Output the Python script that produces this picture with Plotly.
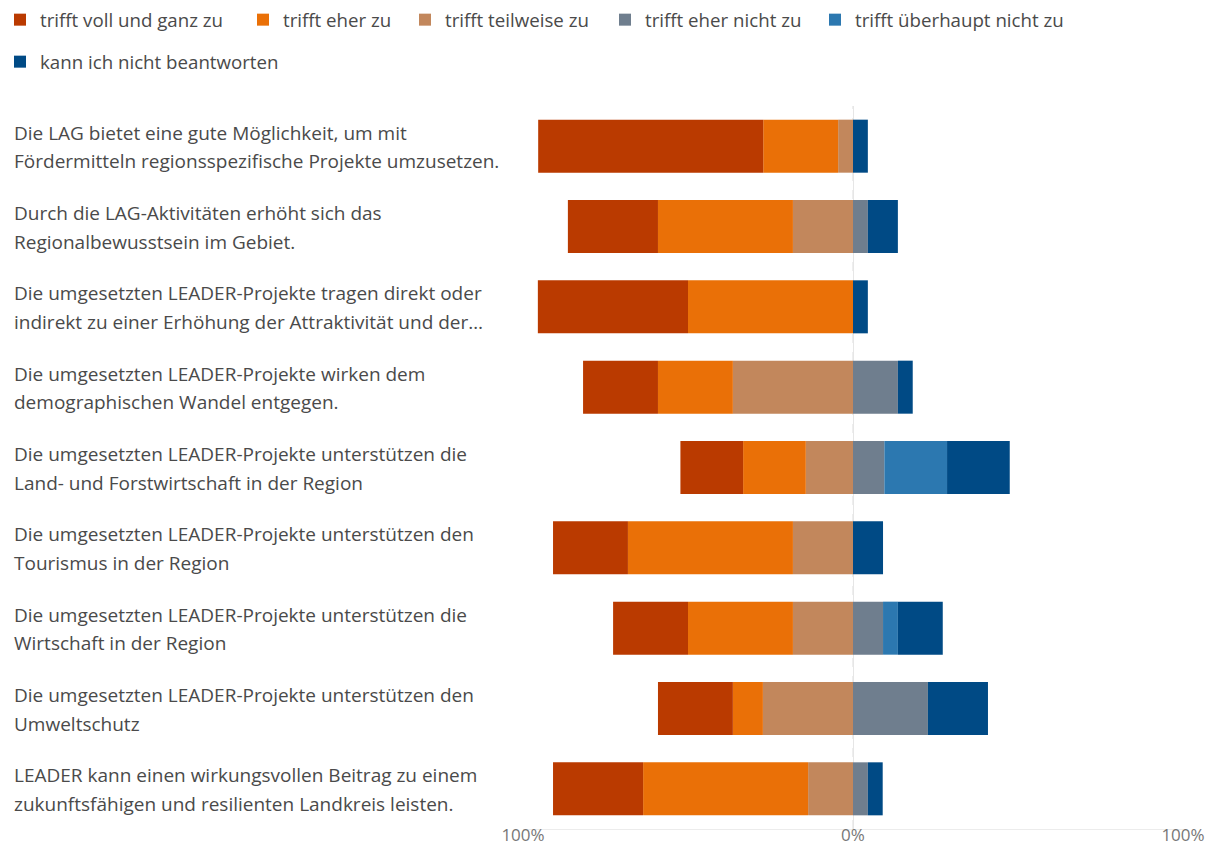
import plotly.graph_objects as go

statements = [
    "Die LAG bietet eine gute Möglichkeit, um mit<br>Fördermitteln regionsspezifische Projekte umzusetzen.",
    "Durch die LAG-Aktivitäten erhöht sich das<br>Regionalbewusstsein im Gebiet.",
    "Die umgesetzten LEADER-Projekte tragen direkt oder<br>indirekt zu einer Erhöhung der Attraktivität und der…",
    "Die umgesetzten LEADER-Projekte wirken dem<br>demographischen Wandel entgegen.",
    "Die umgesetzten LEADER-Projekte unterstützen die<br>Land- und Forstwirtschaft in der Region",
    "Die umgesetzten LEADER-Projekte unterstützen den<br>Tourismus in der Region",
    "Die umgesetzten LEADER-Projekte unterstützen die<br>Wirtschaft in der Region",
    "Die umgesetzten LEADER-Projekte unterstützen den<br>Umweltschutz",
    "LEADER kann einen wirkungsvollen Beitrag zu einem<br>zukunftsfähigen und resilienten Landkreis leisten.",
]

# Percent of answers per statement
voll_und_ganz = [68.2, 27.3, 45.5, 22.7, 19.0, 22.7, 22.7, 22.7, 27.3]
eher_zu = [22.7, 40.9, 50.0, 22.7, 19.0, 50.0, 31.8, 9.1, 50.0]
teilweise = [4.5, 18.2, 0.0, 36.4, 14.3, 18.2, 18.2, 27.3, 13.6]
eher_nicht = [0.0, 4.5, 0.0, 13.6, 9.5, 0.0, 9.1, 22.7, 4.5]
ueberhaupt_nicht = [0.0, 0.0, 0.0, 0.0, 19.0, 0.0, 4.5, 0.0, 0.0]
kann_nicht = [4.5, 9.1, 4.5, 4.5, 19.0, 9.1, 13.6, 18.2, 4.5]

series_names = ["trifft voll und ganz zu", "trifft eher zu", "trifft teilweise zu",
                "trifft eher nicht zu", "trifft überhaupt nicht zu", "kann ich nicht beantworten"]
series_values = [voll_und_ganz, eher_zu, teilweise, eher_nicht, ueberhaupt_nicht, kann_nicht]
series_sign = [-1, -1, -1, 1, 1, 1]
colors = ["#BA3A00", "#EA7007", "#C2875C", "#6F7E8E", "#2C78B0", "#004A85"]

tick_vals = [-100, 0, 100]
tick_text = ["100%", "0%", "100%"]

FONT = "Open Sans"
TEXT_COLOR = "#4a4a4a"

W, H = 1217, 846
ML, MR, MT, MB = 523, 34, 106, 17
PW = W - ML - MR

# legend positions (container px)
legend_pos = [(-5, 20), (243, 20), (405, 20), (605, 20), (815, 20), (-5, 62)]

fig = go.Figure()
# stacking order from zero outward: teilweise, eher, voll on the negative side
draw_order = [2, 1, 0, 3, 4, 5]
for i in draw_order:
    lname = "legend" if i == 0 else f"legend{i+1}"
    fig.add_trace(go.Bar(
        y=statements,
        x=[series_sign[i] * v for v in series_values[i]],
        customdata=series_values[i],
        orientation="h",
        name=series_names[i],
        marker=dict(color=colors[i], line=dict(width=0)),
        legend=lname,
        showlegend=True,
        hovertemplate="%{customdata:.1f}%<extra>" + series_names[i] + "</extra>",
    ))

layout_legends = {}
for i, (lx, ly) in enumerate(legend_pos):
    lname = "legend" if i == 0 else f"legend{i+1}"
    layout_legends[lname] = dict(
        x=lx / W, y=1 - ly / H, xref="container", yref="container",
        xanchor="left", yanchor="middle", orientation="h",
        font=dict(family=FONT, size=18.7, color=TEXT_COLOR),
        bgcolor="rgba(0,0,0,0)", borderwidth=0,
    )

annotations = []
for s in statements:
    lines = s.split("<br>")
    shifts = [13.5, -15.0] if len(lines) == 2 else [0]
    for line, sh in zip(lines, shifts):
        annotations.append(dict(
            x=(12 - ML) / PW, xref="paper", xanchor="left",
            y=s, yref="y", yanchor="middle", yshift=sh,
            text=line, showarrow=False, align="left",
            font=dict(family=FONT, size=19, color=TEXT_COLOR),
        ))

fig.update_layout(
    width=W, height=H,
    margin=dict(l=ML, r=MR, t=MT, b=MB),
    barmode="relative",
    bargap=0.34,
    showlegend=True,
    plot_bgcolor="white", paper_bgcolor="white",
    font=dict(family=FONT, size=19, color=TEXT_COLOR),
    annotations=annotations,
    shapes=[dict(type="line", xref="x", yref="paper", x0=0, x1=0, y0=0, y1=1,
                 line=dict(color="#dcdcdc", width=1, dash="dash"), layer="below")],
    **layout_legends,
)
fig.update_xaxes(
    range=[-100, 100], tickvals=tick_vals, ticktext=tick_text,
    showgrid=True, gridcolor="#e6e6e6", zeroline=False,
    showline=True, linecolor="#ececec", ticks="",
    tickfont=dict(family=FONT, size=17, color="#777777"),
    ticklabelstandoff=-9,
    automargin=False,
    fixedrange=True,
)
fig.update_yaxes(
    autorange="reversed", showticklabels=False, showgrid=False, zeroline=False,
    automargin=False, fixedrange=True,
)

fig.write_html("out.html")
